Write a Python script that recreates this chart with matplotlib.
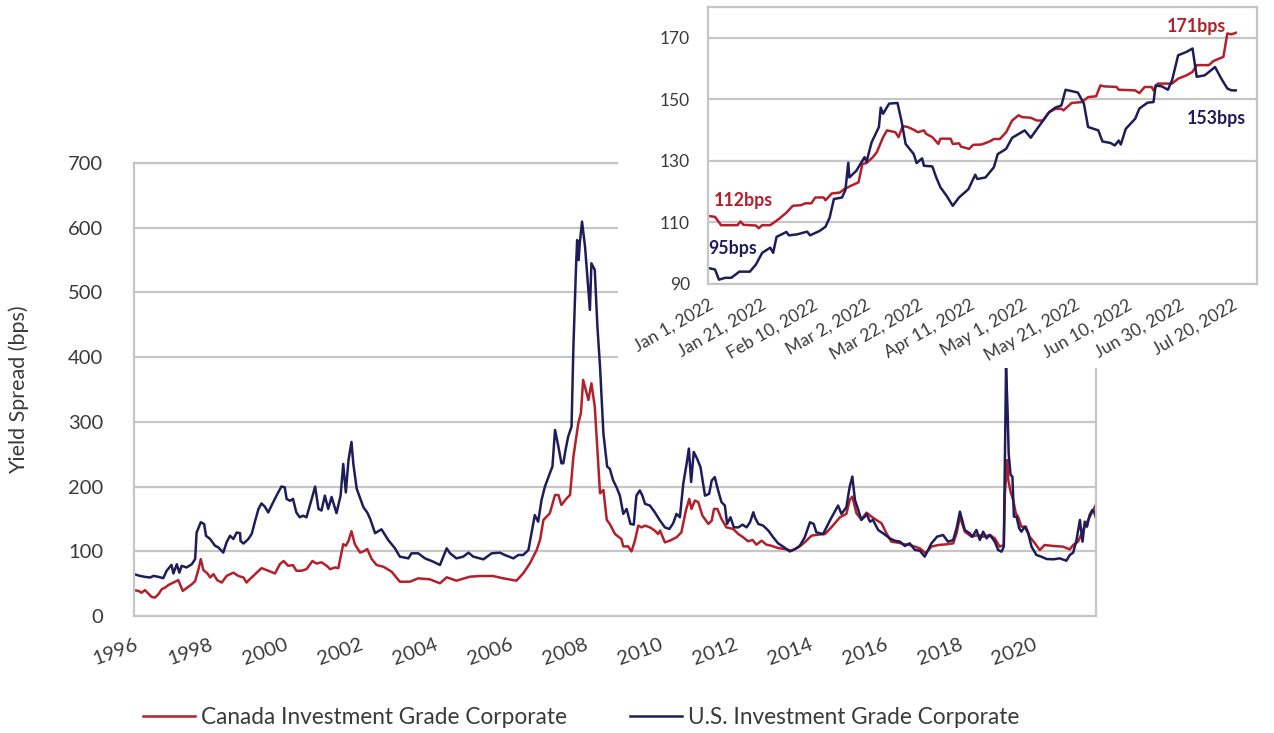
import numpy as np
import pandas as pd
import matplotlib
matplotlib.use("Agg")
import matplotlib.pyplot as plt
import matplotlib.dates as mdates
from matplotlib.patches import Rectangle
from matplotlib.ticker import FuncFormatter

plt.rcParams['font.family'] = ['Lato', 'DejaVu Sans']

RED = '#b3202c'
NAVY = '#1e1d5a'
GRID = '#c6c6c6'
TXT = '#3a3a3a'

# ---- main chart data (year position, spread in bps) ----
us_x = [1996.00, 1996.16, 1996.29, 1996.43, 1996.52, 1996.65, 1996.78, 1996.87, 1997.00, 1997.05,
        1997.14, 1997.21, 1997.27, 1997.40, 1997.54, 1997.63, 1997.67, 1997.78, 1997.87, 1997.92,
        1998.03, 1998.16, 1998.25, 1998.38, 1998.47, 1998.56, 1998.65, 1998.74, 1998.83, 1998.84,
        1998.92, 1999.05, 1999.14, 1999.23, 1999.32, 1999.40, 1999.49, 1999.58, 1999.67, 1999.80,
        1999.93, 2000.02, 2000.07, 2000.16, 2000.24, 2000.33, 2000.42, 2000.51, 2000.60, 2000.74,
        2000.83, 2000.92, 2001.00, 2001.09, 2001.18, 2001.27, 2001.40, 2001.51, 2001.58, 2001.65,
        2001.72, 2001.80, 2001.85, 2001.94, 2002.12, 2002.22, 2002.30, 2002.43, 2002.60, 2002.78,
        2002.96, 2003.09, 2003.32, 2003.40, 2003.58, 2003.76, 2003.98, 2004.16, 2004.34, 2004.43,
        2004.60, 2004.78, 2004.92, 2005.05, 2005.32, 2005.54, 2005.76, 2005.89, 2006.12, 2006.25,
        2006.38, 2006.52, 2006.60, 2006.69, 2006.78, 2006.87, 2006.96, 2007.09, 2007.16, 2007.23,
        2007.32, 2007.40, 2007.45, 2007.51, 2007.58, 2007.67, 2007.72, 2007.79, 2007.82, 2007.86,
        2007.89, 2007.95, 2008.03, 2008.12, 2008.16, 2008.20, 2008.29, 2008.36, 2008.43, 2008.52,
        2008.62, 2008.69, 2008.78, 2008.87, 2008.96, 2009.05, 2009.14, 2009.24, 2009.33, 2009.40,
        2009.49, 2009.56, 2009.63, 2009.76, 2009.89, 2010.03, 2010.16, 2010.28, 2010.38, 2010.47,
        2010.56, 2010.65, 2010.74, 2010.80, 2010.86, 2010.93, 2011.02, 2011.11, 2011.23, 2011.34,
        2011.41, 2011.49, 2011.58, 2011.67, 2011.76, 2011.82, 2011.91, 2012.00, 2012.12, 2012.23,
        2012.34, 2012.43, 2012.52, 2012.56, 2012.65, 2012.78, 2012.92, 2013.05, 2013.18, 2013.32,
        2013.49, 2013.63, 2013.76, 2013.89, 2014.03, 2014.13, 2014.20, 2014.38, 2014.56, 2014.78,
        2014.87, 2015.00, 2015.09, 2015.16, 2015.23, 2015.32, 2015.40, 2015.49, 2015.54, 2015.63,
        2015.71, 2015.85, 2015.98, 2016.16, 2016.29, 2016.43, 2016.56, 2016.69, 2016.83, 2016.96,
        2017.09, 2017.27, 2017.42, 2017.58, 2017.71, 2017.85, 2017.94, 2018.03, 2018.09, 2018.16,
        2018.29, 2018.36, 2018.47, 2018.56, 2018.65, 2018.74, 2018.83, 2018.96, 2019.05, 2019.14,
        2019.20, 2019.23, 2019.26, 2019.30, 2019.33, 2019.38, 2019.43, 2019.47, 2019.54, 2019.61,
        2019.67, 2019.76, 2019.85, 2019.94, 2020.07, 2020.20, 2020.34, 2020.52, 2020.69, 2020.87,
        2020.96, 2021.05, 2021.14, 2021.23, 2021.30, 2021.36, 2021.42, 2021.49, 2021.56, 2021.61,
        2021.65]
us_bps = [64.7, 62, 60.5, 59.5, 62, 60.5, 58.5, 70, 79, 65.7,
          80, 67, 77.6, 75, 80, 88, 129, 145, 142, 124,
          119, 108.6, 106, 98, 114, 124, 119, 129, 128, 116,
          112, 119, 127, 147, 165.5, 174, 169, 160, 171, 186,
          200, 199, 181, 178, 181, 160, 152.6, 155, 152.6, 181,
          200, 165.5, 163, 186, 165.5, 184, 159, 186, 235, 191,
          240.6, 269, 235, 196.6, 168, 160, 150, 128, 134, 117.5,
          104.6, 91.7, 89.1, 96.9, 96.9, 89.1, 84, 78.8, 104.6, 96.9,
          89.1, 91.7, 97.9, 91.7, 87.6, 96.9, 97.9, 94.3, 89.1, 94.3,
          94.3, 102, 127.8, 156, 145.8, 179.3, 200, 220.5, 230.8, 287.5,
          261.7, 236, 236, 256.6, 277.2, 292.6, 416.3, 540, 581, 550,
          576, 609.5, 570.8, 503.9, 473, 545, 534.8, 447.2, 385.4, 282.3,
          230.8, 227.6, 209.5, 199, 186, 157.8, 165.5, 142.3, 141.2, 186,
          194, 186, 173.3, 170.7, 160.4, 147.4, 137, 134.5, 143.3, 157.8,
          152.6, 204.3, 235.4, 258.7, 207, 253.5, 243, 230, 186, 188.8,
          209.5, 214.7, 194, 176, 170.7, 142.3, 152.6, 137, 137, 141.2,
          137, 144.9, 160.4, 152.6, 142.3, 139.7, 132, 121.6, 112.3, 107,
          99.8, 103.5, 108.6, 121.6, 144.9, 142.3, 129.3, 126.7, 147.4, 170.7,
          157.8, 168, 200, 215.4, 179.3, 163.8, 148.4, 153.5, 157.6, 145.8,
          148.4, 132.9, 127.8, 120, 116.4, 114.9, 108.2, 112.3, 102, 101,
          91.7, 112.3, 122.6, 125.2, 114.9, 117.5, 135.5, 161.3, 148.4, 132.9,
          127.8, 122.6, 132.9, 117.5, 130.3, 120, 125.2, 114.9, 102, 99.4,
          107.2, 241, 385, 318.4, 251.4, 218, 215.4, 153.5, 153.5, 135.5,
          130.3, 138, 127.8, 107.2, 94.3, 91.7, 88.1, 87.6, 89.1, 85.5,
          94.3, 97.9, 117.5, 148.4, 114.9, 145.8, 138, 156.1, 163.8, 161.3,
          153]

ca_x = [1996.00, 1996.12, 1996.20, 1996.29, 1996.38, 1996.47, 1996.56, 1996.65, 1996.74, 1996.83,
        1996.92, 1997.05, 1997.18, 1997.30, 1997.40, 1997.54, 1997.63, 1997.72, 1997.78, 1997.85,
        1997.96, 1998.03, 1998.12, 1998.22, 1998.34, 1998.47, 1998.65, 1998.78, 1998.92, 1999.00,
        1999.09, 1999.23, 1999.40, 1999.58, 1999.76, 1999.89, 1999.99, 2000.11, 2000.24, 2000.33,
        2000.47, 2000.60, 2000.76, 2000.87, 2001.00, 2001.14, 2001.23, 2001.36, 2001.45, 2001.58,
        2001.65, 2001.72, 2001.80, 2001.89, 2002.03, 2002.16, 2002.22, 2002.34, 2002.47, 2002.65,
        2002.87, 2003.09, 2003.36, 2003.58, 2003.89, 2004.16, 2004.34, 2004.60, 2004.96, 2005.23,
        2005.58, 2005.85, 2006.20, 2006.38, 2006.56, 2006.74, 2006.83, 2006.92, 2007.09, 2007.23,
        2007.32, 2007.40, 2007.54, 2007.63, 2007.72, 2007.85, 2007.92, 2007.98, 2008.05, 2008.12,
        2008.20, 2008.29, 2008.43, 2008.52, 2008.61, 2008.69, 2008.83, 2009.00, 2009.05, 2009.18,
        2009.27, 2009.36, 2009.45, 2009.54, 2009.63, 2009.76, 2009.89, 2009.98, 2010.03, 2010.16,
        2010.29, 2010.47, 2010.60, 2010.72, 2010.81, 2010.87, 2010.96, 2011.05, 2011.16, 2011.32,
        2011.41, 2011.47, 2011.56, 2011.67, 2011.80, 2011.98, 2012.12, 2012.25, 2012.38, 2012.50,
        2012.60, 2012.74, 2012.87, 2013.00, 2013.18, 2013.36, 2013.54, 2013.72, 2013.89, 2014.07,
        2014.25, 2014.43, 2014.60, 2014.83, 2015.00, 2015.09, 2015.16, 2015.27, 2015.40, 2015.54,
        2015.67, 2015.80, 2015.94, 2016.07, 2016.20, 2016.38, 2016.56, 2016.69, 2016.83, 2016.96,
        2017.12, 2017.27, 2017.45, 2017.67, 2017.85, 2017.94, 2018.03, 2018.16, 2018.34, 2018.52,
        2018.65, 2018.83, 2018.96, 2019.09, 2019.20, 2019.23, 2019.29, 2019.32, 2019.38, 2019.45,
        2019.52, 2019.58, 2019.67, 2019.79, 2019.89, 2020.03, 2020.16, 2020.29, 2020.52, 2020.78,
        2020.96, 2021.05, 2021.18, 2021.32, 2021.45, 2021.54, 2021.65]
ca_bps = [40, 38.8, 36, 40, 34.7, 29.5, 28.5, 33.6, 41.4, 44,
          48, 51.7, 55.4, 38.8, 43, 49, 54, 72.4, 88, 71,
          65.7, 59.5, 64.7, 55.4, 51.7, 62, 67, 62, 59.5, 51.7,
          57, 64.7, 74, 70, 65.7, 80, 85, 77.6, 78.6, 70,
          70, 72.4, 85, 81, 83, 77.6, 72.4, 75, 74, 111,
          108.6, 116, 131, 111, 98, 101, 103.5, 88, 78.8, 76.2,
          68.5, 53, 53, 58.2, 56.7, 50.5, 59.8, 54.6, 60.8, 61.8,
          61.8, 58.2, 54.6, 65.9, 81.4, 102, 117.5, 148.4, 158.7, 187,
          187, 171.6, 181.9, 187, 246.3, 297.8, 313.2, 364.8, 349.3, 333.8,
          359.6, 323.5, 189.6, 194.7, 148.4, 142.3, 126.7, 119, 107.6, 107.6,
          99.8, 116.4, 139.7, 137, 139.7, 137, 132, 126.7, 132, 113.8,
          116.4, 121.6, 129.3, 163, 181, 165.5, 178.5, 176, 155.2, 142.3,
          147.4, 165.5, 165.5, 150, 137, 134.5, 126.7, 121.6, 115.4, 117.5,
          110.2, 116.4, 110.2, 108.6, 105, 103.5, 100.9, 106, 113.8, 124.2,
          125.7, 126.7, 137, 152.6, 157.8, 179.3, 184.4, 158.7, 149.4, 159.7,
          153.5, 148.4, 143.2, 127.8, 114.9, 113.3, 110.8, 109.7, 107.2, 104.6,
          96.9, 107.2, 109.7, 110.8, 112.3, 127.8, 153.5, 130.3, 122.6, 125.2,
          122.6, 125.2, 120, 107.2, 109.7, 189.6, 241.1, 210.2, 192.2, 179.3,
          158.7, 153.5, 138, 138, 122.6, 112.3, 102, 109.7, 108.2, 107.2,
          103, 109.7, 114.9, 132.9, 148.4, 158.7, 171]

main_ticks = [1996, 1998, 2000, 2002, 2004, 2006, 2008, 2010, 2012, 2014, 2016, 2018, 2020]

# ---- inset data (days since Jan 1, 2022, spread in bps) ----
in_us_day = [0, 2.7, 4.2, 6.6, 8.9, 12, 16, 18.3, 20.7, 23.8, 24.9, 26.2, 30, 30.9, 34, 37.9, 39,
             42.6, 44.9, 46.5, 48.1, 51.2, 52.5, 53.6, 54, 56.7, 59.8, 60.6, 62.5, 65.3, 66, 66.9,
             69.2, 72.4, 73.9, 75.5, 78.6, 79.7, 81.8, 82.5, 85.7, 87.2, 88.8, 91.2, 93.5, 95.9,
             99.5, 102.1, 102.9, 106, 109.2, 110.7, 113.9, 116.2, 121, 123.3, 128, 130.3, 132.7,
             135, 136.6, 141.3, 143.6, 145.2, 149.1, 150.7, 153.8, 155.4, 156.9, 157.7, 159.6,
             163.2, 164.8, 167.9, 170.2, 171, 173.4, 175.7, 177.3, 179.6, 182.8, 185.1, 186.7,
             189.8, 193.7, 196.1, 198.4, 200, 201.6]
in_us = [95.2, 94.7, 91.4, 92, 92, 94, 94, 96.3, 100.1, 101.8, 100.1, 105.3, 106.9, 105.8, 106.1,
         107, 105.8, 107.2, 108.6, 111.6, 117.6, 118.1, 120.5, 129.4, 124.6, 126.8, 131.2, 129.8,
         136, 141, 147.3, 145.3, 148.6, 148.8, 143.1, 135.5, 132.2, 129.3, 130.8, 128.4, 128.2,
         124.6, 121.4, 118.6, 115.4, 118.1, 120.8, 125.5, 124.1, 124.6, 127.9, 132.2, 133.9,
         137.5, 139.9, 137.5, 143.1, 145.8, 147.3, 148, 153.1, 152.2, 148.6, 141, 139.9, 136.3,
         135.8, 135, 136.6, 135.3, 140.4, 143.7, 147, 148.9, 149.1, 154.5, 154.2, 153.1, 156.2,
         164.3, 165.4, 166.5, 157.3, 157.8, 160.5, 156.7, 153.5, 152.9, 152.9]

in_ca_day = [0, 2.7, 5, 11.3, 12.4, 13.6, 18.3, 19.4, 20.7, 23.8, 26.9, 30, 32.4, 35.6, 37.1, 39.5,
             41, 44.2, 44.9, 47.3, 50.4, 52, 55.1, 57.5, 59, 60.6, 63, 64.5, 66.9, 68.4, 71.6,
             72.8, 74.4, 76.3, 78.6, 80.2, 82.5, 83.3, 85.7, 88, 88.8, 92.7, 93.5, 95.9, 96.7,
             99.8, 101.3, 104.5, 107.6, 109.2, 111.5, 113.9, 116.2, 118.6, 120.1, 123.3, 125.6,
             128, 130.3, 132.7, 135, 135.8, 138.9, 142.8, 145.2, 148.3, 149.9, 151.4, 156.1,
             156.9, 163.2, 164.8, 166.8, 169.5, 170.2, 171.8, 177.3, 179.6, 182.8, 185.1, 186.7,
             191.4, 193, 196.9, 198.4, 200, 201.6]
in_ca = [112.1, 111.8, 109.1, 109.1, 110.3, 109.2, 109, 108.1, 109.1, 109.1, 111, 113.2, 115.4,
         115.6, 116.2, 116.2, 118.1, 118.1, 117.2, 119.4, 119.7, 120.8, 122.1, 123, 129, 129.3,
         131.2, 132.8, 137.7, 139.9, 139.3, 137.7, 141.3, 141, 140.1, 139.3, 139.9, 138.8, 137.7,
         135.5, 137.2, 137.2, 135.5, 135.7, 134.6, 133.9, 135.2, 135.3, 136.3, 137.1, 137.1,
         139.3, 143.1, 144.8, 144.2, 144, 143.1, 143.1, 145.8, 146.9, 146.9, 146.4, 148.8, 149.1,
         150.7, 151, 154.5, 154.2, 154, 153.1, 152.9, 152, 154, 154, 152.9, 155.1, 155.1, 156.7,
         157.8, 158.9, 161.1, 161.1, 162.4, 163.8, 171.4, 171.1, 171.6]

start = pd.Timestamp('2022-01-01')
us_dates = start + pd.to_timedelta(in_us_day, unit='D')
ca_dates = start + pd.to_timedelta(in_ca_day, unit='D')
inset_ticks = [start + pd.Timedelta(days=d) for d in range(0, 201, 20)]

fig = plt.figure(figsize=(12.74, 7.33), dpi=100)

# main chart
ax = fig.add_axes([0.1052, 0.1596, 0.7551, 0.618], zorder=1)
ax.plot(ca_x, ca_bps, color=RED, lw=1.8, label='Canada Investment Grade Corporate')
ax.plot(us_x, us_bps, color=NAVY, lw=1.8, label='U.S. Investment Grade Corporate')
ax.set_xlim(1996, 2021.66)
ax.set_ylim(0, 700)
ax.set_yticks(range(0, 701, 100))
ax.set_xticks(main_ticks)
ax.set_xticklabels([str(t) for t in main_ticks], rotation=20, ha='right', rotation_mode='anchor')
ax.tick_params(axis='both', length=0, labelsize=14.5, labelcolor=TXT)
ax.tick_params(axis='x', pad=14)
ax.tick_params(axis='y', pad=22)
ax.grid(axis='y', color=GRID, lw=1.6)
ax.set_axisbelow(True)
for s in ax.spines.values():
    s.set_color(GRID)
    s.set_linewidth(1.6)
ax.set_ylabel('Yield Spread (bps)', fontsize=15.5, color=TXT, labelpad=28)

# white area behind the inset
fig.add_artist(Rectangle((0.485, 0.498), 0.52, 0.51, transform=fig.transFigure,
                         facecolor='white', edgecolor='none', zorder=2))

# inset chart
ins = fig.add_axes([0.5557, 0.6126, 0.4309, 0.3779], zorder=3)
ins.plot(ca_dates, in_ca, color=RED, lw=1.8)
ins.plot(us_dates, in_us, color=NAVY, lw=1.8)
ins.set_ylim(90, 180)
ins.set_yticks([90, 110, 130, 150, 170])
ins.set_xlim(start, start + pd.Timedelta(days=209.7))
ins.set_xticks(inset_ticks)
ins.xaxis.set_major_formatter(FuncFormatter(
    lambda v, p: '{:%b} {}, {}'.format(mdates.num2date(v), mdates.num2date(v).day, mdates.num2date(v).year)))
plt.setp(ins.get_xticklabels(), rotation=30, ha='right', rotation_mode='anchor')
ins.tick_params(axis='both', length=0, labelsize=12.5, labelcolor=TXT)
ins.tick_params(axis='x', pad=9)
ins.tick_params(axis='y', pad=13)
ins.grid(axis='y', color=GRID, lw=1.6)
ins.set_axisbelow(True)
for s in ins.spines.values():
    s.set_color(GRID)
    s.set_linewidth(1.6)

ins.text(start + pd.Timedelta(days=2.3), 117.2, '112bps', color=RED, fontsize=12.8,
         fontweight='bold', va='center', ha='left')
ins.text(start + pd.Timedelta(days=0.3), 101.6, '95bps', color=NAVY, fontsize=12.8,
         fontweight='bold', va='center', ha='left')
ins.text(start + pd.Timedelta(days=198), 173.8, '171bps', color=RED, fontsize=12.8,
         fontweight='bold', va='center', ha='right')
ins.text(start + pd.Timedelta(days=183), 143.7, '153bps', color=NAVY, fontsize=12.8,
         fontweight='bold', va='center', ha='left')

fig.legend(loc='center', bbox_to_anchor=(0.456, 0.021), ncol=2, frameon=False,
           fontsize=16.3, handlelength=2.3, columnspacing=2.8, handletextpad=0.25,
           labelcolor=TXT)

fig.savefig('out.png', dpi=100)
